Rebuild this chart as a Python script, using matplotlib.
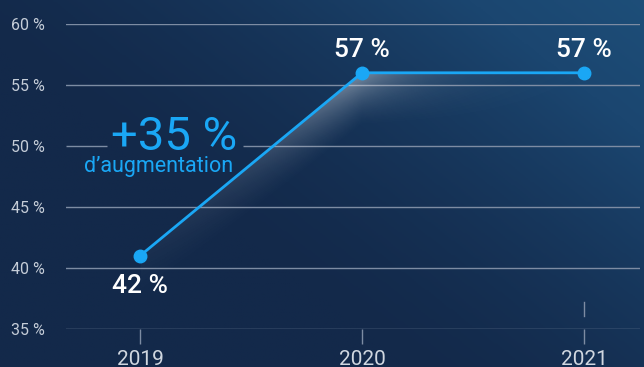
import numpy as np
import matplotlib
matplotlib.use("Agg")
import matplotlib.pyplot as plt
from matplotlib.colors import LinearSegmentedColormap

# ---- data ----
years = [2019, 2020, 2021]
values = [41, 56, 56]                 # plotted positions (%)
value_labels = ["42 %", "57 %", "57 %"]
yticks = [35, 40, 45, 50, 55, 60]
ytick_labels = ["35 %", "40 %", "45 %", "50 %", "55 %", "60 %"]
headline = "+35 %"
subline = "d\u2019augmentation"

plt.rcParams['font.family'] = ['Roboto', 'DejaVu Sans']

W, H = 644, 367
fig = plt.figure(figsize=(W / 100, H / 100), dpi=100)

# background gradient
bg = fig.add_axes([0, 0, 1, 1], zorder=-10)
gx, gy = np.meshgrid(np.linspace(0, 1, 300), np.linspace(0, 1, 200))
t = np.clip(0.75 * gx + 0.55 * gy - 0.45, 0, 1) ** 1.6
cmap = LinearSegmentedColormap.from_list("bgc", ["#13294a", "#1b4670", "#1f5580"])
bg.imshow(t, cmap=cmap, origin="lower", aspect="auto", extent=[0, 1, 0, 1],
          vmin=0, vmax=1)
bg.set_axis_off()

# main axes: px 66..640 horizontally, px 24..329 vertically
left, right = 66 / W, 640 / W
bottom, top = (H - 329) / H, (H - 24) / H
ax = fig.add_axes([left, bottom, right - left, top - bottom])
ax.patch.set_alpha(0)
px_per_year = 222
x0, x1 = 2019 - 74 / px_per_year, 2021 + 56 / px_per_year
ax.set_xlim(x0, x1)
ax.set_ylim(35, 60)
for s in ax.spines.values():
    s.set_visible(False)

grid_col = "#7d8ca3"
for yv in yticks:
    if yv == 50:
        ax.hlines(yv, x0, 2019 - 33 / px_per_year, color=grid_col, lw=1.0, zorder=1)
        ax.hlines(yv, 2019 + 103 / px_per_year, x1, color=grid_col, lw=1.0, zorder=1)
    else:
        ax.axhline(yv, color=grid_col, lw=1.0, zorder=1)

ax.set_yticks(yticks)
ax.set_yticklabels(ytick_labels, color="#c5cdd8", fontsize=11.5)
ax.tick_params(axis="y", length=0, pad=15)
ax.set_xticks(years)
ax.set_xticklabels([str(y) for y in years], color="#d0d7e0", fontsize=15)
ax.tick_params(axis="x", length=10.5, width=1, color=grid_col, pad=4.5)

# white glow under line
nx, ny = 500, 300
X, Y = np.meshgrid(np.linspace(x0, x1, nx), np.linspace(35, 60, ny))
yline = np.interp(X, years, values)
d = yline - Y
wx = np.where(X < 2020, np.exp(-(2020 - X) / 0.4), np.exp(-(X - 2020) / 0.25))
wx = np.where(X < 2019, 0, wx)
alpha = np.where(d > 0, 0.42 * np.clip(1 - d / 4.5, 0, 1) ** 1.6 * wx, 0)
img = np.zeros((ny, nx, 4))
img[..., :3] = 1.0
img[..., 3] = alpha
ax.imshow(img, origin="lower", extent=[x0, x1, 35, 60], aspect="auto",
          zorder=2, interpolation="bilinear")

line_col = "#1aa7f5"
ax.plot(years, values, color=line_col, lw=2.0, marker="o", markersize=9,
        zorder=5, clip_on=False)

# stray tick near 2021
ax.plot([2021, 2021], [36.07, 37.21], color=grid_col, lw=1.0, zorder=3)

# value labels
ax.annotate(value_labels[0], (years[0], values[0]), xytext=(0, -30),
            textcoords="offset pixels", ha="center", va="center",
            color="white", fontsize=19, fontweight="medium", zorder=6)
for i in (1, 2):
    ax.annotate(value_labels[i], (years[i], values[i]), xytext=(0, 23),
                textcoords="offset pixels", ha="center", va="center",
                color="white", fontsize=19, fontweight="medium", zorder=6)

# headline annotation
ax.text(2019 + 97 / px_per_year, 50 - 4 / 12.2, headline, ha="right",
        va="baseline", color=line_col, fontsize=34, fontweight="normal",
        zorder=6)
ax.text(2019 + 93 / px_per_year, 50 - 26 / 12.2, subline, ha="right",
        va="baseline", color=line_col, fontsize=15.5, zorder=6)

fig.savefig("out.png", dpi=100)
